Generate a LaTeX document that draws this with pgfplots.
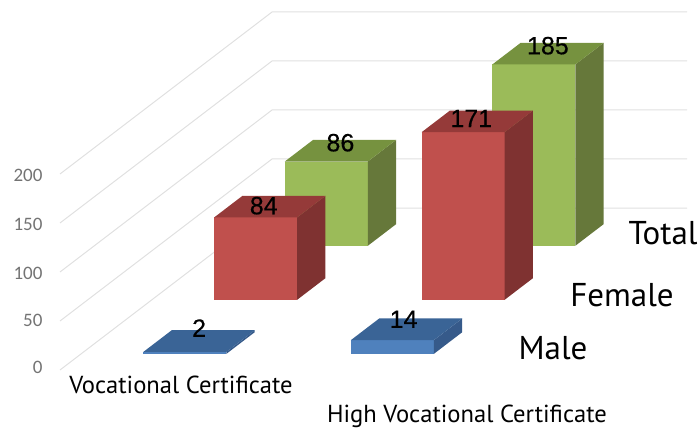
\documentclass[border=0pt]{standalone}
\usepackage{fontspec}
\setmainfont{PT Sans}
\newfontfamily\arialf[FakeBold=0.4]{Liberation Sans}
\newfontfamily\calf{Carlito}
\usepackage{pgfplots}
\pgfplotsset{compat=1.18}
\definecolor{redF}{HTML}{C0504D}\definecolor{redT}{HTML}{953A39}\definecolor{redS}{HTML}{7F3231}
\definecolor{grnF}{HTML}{9BBB59}\definecolor{grnT}{HTML}{76923F}\definecolor{grnS}{HTML}{66783A}
\definecolor{bluF}{HTML}{4F81BD}\definecolor{bluT}{HTML}{3A6496}\definecolor{bluS}{HTML}{365A8A}
\definecolor{gridc}{HTML}{E0E0E0}
\newcommand{\gridl}[1]{\addplot3[draw=gridc,line width=1pt,forget plot] coordinates {(0,0,#1) (0,3,#1) (2,3,#1)};}
% x0 x1 y0 y1 value colour-prefix
\newcommand{\dobar}[6]{%
 \addplot3[fill=#6F,draw=none,forget plot] coordinates {(#1,#3,0) (#2,#3,0) (#2,#3,#5) (#1,#3,#5)} --cycle;
 \addplot3[fill=#6S,draw=none,forget plot] coordinates {(#2,#3,0) (#2,#4,0) (#2,#4,#5) (#2,#3,#5)} --cycle;
 \addplot3[fill=#6T,draw=none,forget plot] coordinates {(#1,#3,#5) (#2,#3,#5) (#2,#4,#5) (#1,#4,#5)} --cycle;
}
\begin{document}
\begin{tikzpicture}[x=1pt,y=1pt]
\path[use as bounding box] (0,0) rectangle (700,431);
\begin{axis}[
  at={(60pt,61pt)},anchor=origin,
  x={(207.5pt,0pt)},y={(70.67pt,54pt)},z={(0pt,0.98pt)},
  xmin=0,xmax=2,ymin=0,ymax=3,zmin=0,zmax=200,
  axis line style={draw=none},
  xtick=\empty,ytick=\empty,ztick={0,50,100,150,200},
  ztick style={draw=none},
  zticklabel style={font=\calf\fontsize{19}{19}\selectfont,text=black!55,xshift=-14pt,yshift=5pt},
  /pgf/number format/assume math mode=true,
  clip=false,
]
\gridl{0}\gridl{50}\gridl{100}\gridl{150}\gridl{200}
% Total
\dobar{0.3}{0.7}{2.3}{2.7}{86}{grn}
\dobar{1.3}{1.7}{2.3}{2.7}{185}{grn}
% Female
\dobar{0.3}{0.7}{1.3}{1.7}{84}{red}
\dobar{1.3}{1.7}{1.3}{1.7}{171}{red}
% Male
\dobar{0.3}{0.7}{0.3}{0.7}{2}{blu}
\dobar{1.3}{1.7}{0.3}{0.7}{14}{blu}
\tikzset{vl/.style={font=\arialf\fontsize{25}{25}\selectfont,text=black,inner sep=0pt}}
\node[vl,yshift=8pt] at (axis cs:0.5,2.5,86) {86};
\node[vl,yshift=8pt] at (axis cs:1.5,2.5,185) {185};
\node[vl,xshift=-6pt,yshift=1pt] at (axis cs:0.5,1.5,84) {84};
\node[vl,xshift=-6pt,yshift=3pt] at (axis cs:1.5,1.5,171) {171};
\node[vl,yshift=13pt] at (axis cs:0.5,0.5,2) {2};
\node[vl,xshift=-3pt,yshift=10pt] at (axis cs:1.5,0.5,14) {14};
\end{axis}
\tikzset{cl/.style={font=\fontsize{24.6}{24.6}\selectfont,text=black,inner sep=0pt},sl/.style={font=\fontsize{33}{33}\selectfont,text=black,inner sep=0pt}}
\node[cl] at (181,431-385) {Vocational Certificate};
\node[cl] at (467,431-416) {High Vocational Certificate};
\node[sl] at (663,431-233) {Total};
\node[sl] at (622,431-295) {Female};
\node[sl] at (553,431-348) {Male};
\end{tikzpicture}
\end{document}
